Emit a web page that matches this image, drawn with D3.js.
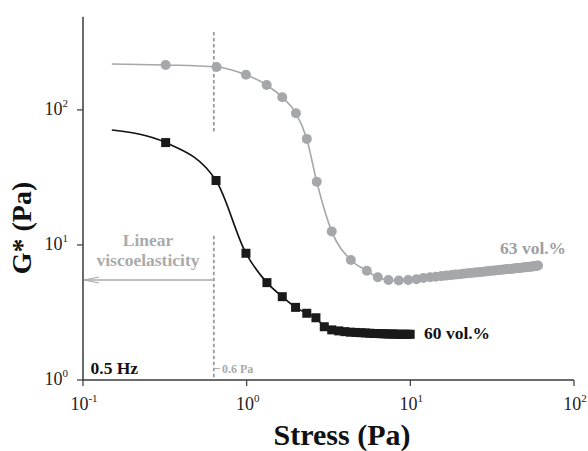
<!DOCTYPE html>
<html>
<head>
<meta charset="utf-8">
<script src="https://cdn.jsdelivr.net/npm/d3@7"></script>
<style>
  html, body { margin: 0; padding: 0; background: #fff; }
  svg text { font-family: "Liberation Serif", "Times New Roman", Times, serif; }
</style>
</head>
<body>
<svg id="chart" width="588" height="451"></svg>
<script>
// ---- data ----
const xTickValues = [0.1, 1, 10, 100];
const xTickExponents = ["-1", "0", "1", "2"];
const yTickValues = [1, 10, 100];
const yTickExponents = ["0", "1", "2"];

// 63 vol.% (grey circles)
const stress63 = [0.32, 0.655, 0.99, 1.325, 1.65, 2.0, 2.33, 2.68, 3.31, 4.33, 5.42, 6.33, 7.35, 8.5, 9.7, 10.9,
  12.0, 13.2, 14.3, 15.5, 16.6, 17.8, 18.9, 20.1, 21.2, 22.4, 23.5, 24.7, 25.8, 27.0, 28.1, 29.3, 30.4, 31.6,
  32.7, 33.9, 35.0, 36.2, 37.3, 38.5, 39.6, 40.8, 41.9, 43.1, 44.2, 45.4, 46.5, 47.7, 48.8, 50.0, 51.1, 52.3,
  53.4, 54.6, 55.7, 56.9, 58.0, 59.2, 60.3];
const modulus63 = [215, 208, 182, 153, 124, 94.6, 61, 29.4, 12.6, 7.74, 6.45, 5.76, 5.5, 5.45, 5.5, 5.58,
  5.69, 5.76, 5.82, 5.88, 5.93, 5.98, 6.03, 6.08, 6.12, 6.17, 6.20, 6.24, 6.28, 6.31, 6.34, 6.38, 6.41, 6.44,
  6.47, 6.50, 6.53, 6.55, 6.58, 6.61, 6.63, 6.65, 6.67, 6.70, 6.72, 6.74, 6.76, 6.78, 6.80, 6.83, 6.85, 6.87,
  6.89, 6.91, 6.93, 6.95, 6.97, 7.0, 7.05];
const fitStart63 = [0.15, 219];

// 60 vol.% (black squares)
const stress60 = [0.32, 0.65, 0.99, 1.33, 1.65, 1.99, 2.33, 2.65, 2.98, 3.31, 3.65, 3.98, 4.31, 4.65, 4.98,
  5.31, 5.65, 5.98, 6.31, 6.65, 6.98, 7.31, 7.65, 7.98, 8.31, 8.65, 8.98, 9.31, 9.65, 9.98];
const modulus60 = [57.3, 30, 8.68, 5.26, 4.14, 3.45, 3.12, 2.89, 2.48, 2.35, 2.31, 2.28, 2.26, 2.25, 2.24,
  2.23, 2.22, 2.21, 2.21, 2.2, 2.2, 2.19, 2.19, 2.19, 2.18, 2.18, 2.18, 2.18, 2.18, 2.18];
const fitStart60 = [0.15, 71];

// annotations
const thresholdStress = 0.63;
const dashTop = [378, 67.5];
const dashBottom = [11.7, 1];
const arrowModulus = 5.5;

// ---- layout ----
const svg = d3.select("#chart");
const x = d3.scaleLog().domain([0.1, 100]).range([83, 574]);
const y = d3.scaleLog().domain([1, 490]).range([380, 16.7]);

const axisColor = "#3a3a3a";
const grey = "#a5a7aa";
const greyText = "#9d9fa2";

// axes lines
svg.append("line").attr("x1", x(0.1)).attr("x2", x(100)).attr("y1", y(1)).attr("y2", y(1))
  .attr("stroke", axisColor).attr("stroke-width", 1.5);
svg.append("line").attr("x1", x(0.1)).attr("x2", x(0.1)).attr("y1", y(1)).attr("y2", y(490))
  .attr("stroke", axisColor).attr("stroke-width", 1.5);

// x ticks
xTickValues.forEach((v, i) => {
  svg.append("line").attr("x1", x(v)).attr("x2", x(v)).attr("y1", y(1)).attr("y2", y(1) + 6)
    .attr("stroke", axisColor).attr("stroke-width", 1.2);
  const t = svg.append("text").attr("x", x(v) + 1).attr("y", 410).attr("text-anchor", "middle")
    .attr("font-size", 18).attr("fill", "#222");
  t.append("tspan").text("10");
  t.append("tspan").attr("dy", -8).attr("font-size", 11).text(xTickExponents[i]);
});
// y ticks
yTickValues.forEach((v, i) => {
  svg.append("line").attr("x1", x(0.1) - 6).attr("x2", x(0.1)).attr("y1", y(v)).attr("y2", y(v))
    .attr("stroke", axisColor).attr("stroke-width", 1.2);
  const t = svg.append("text").attr("x", 68).attr("y", y(v) + 5).attr("text-anchor", "end")
    .attr("font-size", 18).attr("fill", "#222");
  t.append("tspan").text("10");
  t.append("tspan").attr("dy", -8).attr("font-size", 11).text(yTickExponents[i]);
});

// axis titles
svg.append("text").attr("transform", "translate(31,228) rotate(-90)").attr("text-anchor", "middle")
  .attr("font-size", 28).attr("font-weight", "bold").attr("fill", "#111")
  .text("G* (Pa)");
svg.append("text").attr("x", 342).attr("y", 445).attr("text-anchor", "middle")
  .attr("font-size", 30).attr("font-weight", "bold").attr("fill", "#111")
  .text("Stress (Pa)");

// dashed threshold line
[dashTop, dashBottom].forEach(seg => {
  svg.append("line").attr("x1", x(thresholdStress)).attr("x2", x(thresholdStress))
    .attr("y1", y(seg[0])).attr("y2", y(seg[1]))
    .attr("stroke", "#9a9a9a").attr("stroke-width", 1.8).attr("stroke-dasharray", "3.5,2.5");
});
// arrow
const ay = y(arrowModulus);
svg.append("line").attr("x1", x(thresholdStress)).attr("x2", x(0.1) + 1).attr("y1", ay).attr("y2", ay)
  .attr("stroke", "#aaaaaa").attr("stroke-width", 1.3);
svg.append("path").attr("d", `M${x(0.1) + 16},${ay - 3} L${x(0.1) + 1},${ay} L${x(0.1) + 16},${ay + 3}`)
  .attr("fill", "none").attr("stroke", "#aaaaaa").attr("stroke-width", 1.2);

// annotation texts
svg.append("text").attr("x", 148).attr("y", 246).attr("text-anchor", "middle").attr("font-size", 17.5)
  .attr("font-weight", "bold").attr("fill", "#aaaaaa").text("Linear");
svg.append("text").attr("x", 148).attr("y", 266).attr("text-anchor", "middle").attr("font-size", 17.5)
  .attr("font-weight", "bold").attr("fill", "#aaaaaa").text("viscoelasticity");
svg.append("text").attr("x", 90.5).attr("y", 374).attr("font-size", 17.5)
  .attr("font-weight", "bold").attr("fill", "#111").text("0.5 Hz");
svg.append("line").attr("x1", x(thresholdStress)).attr("x2", x(thresholdStress) + 6).attr("y1", 368.5).attr("y2", 368.5)
  .attr("stroke", "#aaaaaa").attr("stroke-width", 1);
svg.append("text").attr("x", 222).attr("y", 372.5).attr("font-size", 12)
  .attr("font-weight", "bold").attr("fill", "#aaaaaa").text("0.6 Pa");
svg.append("text").attr("x", 500).attr("y", 254).attr("font-size", 17.5)
  .attr("font-weight", "bold").attr("fill", greyText).text("63 vol.%");
svg.append("text").attr("x", 424).attr("y", 339).attr("font-size", 17.5)
  .attr("font-weight", "bold").attr("fill", "#111").text("60 vol.%");

// series
const pts63 = stress63.map((s, i) => [s, modulus63[i]]);
const pts60 = stress60.map((s, i) => [s, modulus60[i]]);
const line = d3.line().x(d => x(d[0])).y(d => y(d[1])).curve(d3.curveMonotoneX);

svg.append("path").datum([fitStart63].concat(pts63)).attr("d", line)
  .attr("fill", "none").attr("stroke", grey).attr("stroke-width", 1.6);
svg.append("path").datum([fitStart60].concat(pts60)).attr("d", line)
  .attr("fill", "none").attr("stroke", "#111").attr("stroke-width", 1.6);

svg.append("g").selectAll("circle").data(pts63).join("circle")
  .attr("cx", d => x(d[0])).attr("cy", d => y(d[1])).attr("r", 5).attr("fill", grey);

const sq = 9;
svg.append("g").selectAll("rect").data(pts60).join("rect")
  .attr("x", d => x(d[0]) - sq / 2).attr("y", d => y(d[1]) - sq / 2)
  .attr("width", sq).attr("height", sq).attr("fill", "#1a1a1a");
</script>
</body>
</html>
